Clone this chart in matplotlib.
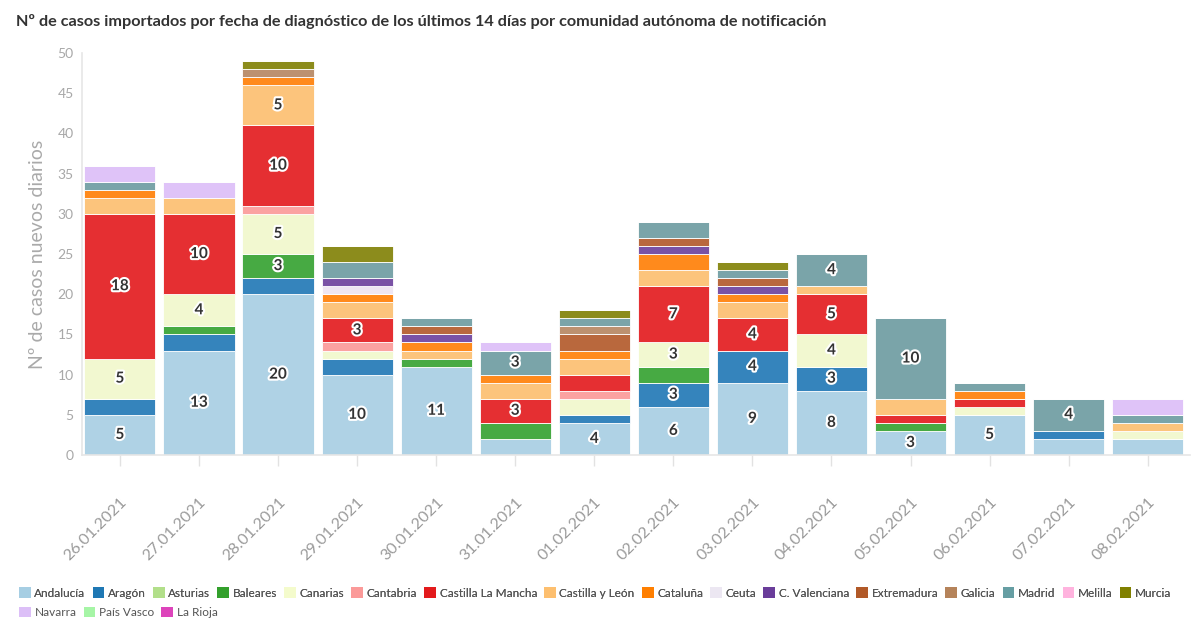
import numpy as np
import matplotlib
matplotlib.use('Agg')
import matplotlib.pyplot as plt
import matplotlib.patheffects as pe
from matplotlib.patches import Patch

plt.rcParams['font.family'] = ['Lato', 'DejaVu Sans']

# Data
fechas = ['26.01.2021', '27.01.2021', '28.01.2021', '29.01.2021', '30.01.2021',
          '31.01.2021', '01.02.2021', '02.02.2021', '03.02.2021', '04.02.2021',
          '05.02.2021', '06.02.2021', '07.02.2021', '08.02.2021']

comunidades = ['Andalucía', 'Aragón', 'Asturias', 'Baleares', 'Canarias', 'Cantabria',
               'Castilla La Mancha', 'Castilla y León', 'Cataluña', 'Ceuta',
               'C. Valenciana', 'Extremadura', 'Galicia', 'Madrid', 'Melilla',
               'Murcia', 'Navarra', 'País Vasco', 'La Rioja']

andalucia    = [5, 13, 20, 10, 11, 2, 4, 6, 9, 8, 3, 5, 2, 2]
aragon       = [2, 2, 2, 2, 0, 0, 1, 3, 4, 3, 0, 0, 1, 0]
asturias     = [0, 0, 0, 0, 0, 0, 0, 0, 0, 0, 0, 0, 0, 0]
baleares     = [0, 1, 3, 0, 1, 2, 0, 2, 0, 0, 1, 0, 0, 0]
canarias     = [5, 4, 5, 1, 0, 0, 2, 3, 0, 4, 0, 1, 0, 1]
cantabria    = [0, 0, 1, 1, 0, 0, 1, 0, 0, 0, 0, 0, 0, 0]
clm          = [18, 10, 10, 3, 0, 3, 2, 7, 4, 5, 1, 1, 0, 0]
cyl          = [2, 2, 5, 2, 1, 2, 2, 2, 2, 1, 2, 0, 0, 1]
cataluna     = [1, 0, 1, 1, 1, 1, 1, 2, 1, 0, 0, 1, 0, 0]
ceuta        = [0, 0, 0, 1, 0, 0, 0, 0, 0, 0, 0, 0, 0, 0]
valenciana   = [0, 0, 0, 1, 1, 0, 0, 1, 1, 0, 0, 0, 0, 0]
extremadura  = [0, 0, 0, 0, 1, 0, 2, 1, 1, 0, 0, 0, 0, 0]
galicia      = [0, 0, 1, 0, 0, 0, 1, 0, 0, 0, 0, 0, 0, 0]
madrid       = [1, 0, 0, 2, 1, 3, 1, 2, 1, 4, 10, 1, 4, 1]
melilla      = [0, 0, 0, 0, 0, 0, 0, 0, 0, 0, 0, 0, 0, 0]
murcia       = [0, 0, 1, 2, 0, 0, 1, 0, 1, 0, 0, 0, 0, 0]
navarra      = [2, 2, 0, 0, 0, 1, 0, 0, 0, 0, 0, 0, 0, 2]
pais_vasco   = [0, 0, 0, 0, 0, 0, 0, 0, 0, 0, 0, 0, 0, 0]
la_rioja     = [0, 0, 0, 0, 0, 0, 0, 0, 0, 0, 0, 0, 0, 0]

series = [andalucia, aragon, asturias, baleares, canarias, cantabria, clm, cyl,
          cataluna, ceuta, valenciana, extremadura, galicia, madrid, melilla,
          murcia, navarra, pais_vasco, la_rioja]

bar_colors = ['#afd2e5', '#3584bc', '#b9e296', '#47aa43', '#f2f8d0', '#fba2a1',
              '#e52f32', '#fcc47c', '#ff8a1c', '#efe6f2', '#7a52a5', '#b9683d',
              '#bc9170', '#7aa4a9', '#ffbbe3', '#8c8c1c', '#dfc3f8', '#adf5ad', '#df50c0']
legend_colors = ['#a6cee3', '#1f78b4', '#b2df8a', '#33a02c', '#f4fbcc', '#fb9a99',
                 '#e31a1c', '#fdbf6f', '#ff7f00', '#ece7f2', '#6a3d9a', '#b15928',
                 '#b5835a', '#669ea3', '#ffb3de', '#808000', '#dcbff7', '#a6f5a6', '#dd44bb']

fig = plt.figure(figsize=(11.98, 6.25), dpi=100)
ax = fig.add_axes([0.0684, 0.272, 0.9246, 0.643])

x = np.arange(len(fechas))
bottom = np.zeros(len(fechas))
for vals, col in zip(series, bar_colors):
    vals = np.array(vals)
    ax.bar(x, vals, 0.9, bottom=bottom, color=col, edgecolor='white', linewidth=0.6)
    for xi, v, b in zip(x, vals, bottom):
        if v >= 3:
            ax.text(xi, b + v / 2, str(v), ha='center', va='center', fontsize=11,
                    fontweight='bold', color='#333333',
                    path_effects=[pe.withStroke(linewidth=3, foreground='white')])
    bottom += vals

ax.set_xlim(-0.48, len(fechas) - 0.47)
ax.set_ylim(0, 50)
ax.set_yticks(range(0, 51, 5))
ax.set_xticks(x)
ax.set_xticklabels(fechas, rotation=45, ha='right', rotation_mode='anchor')
ax.tick_params(axis='x', colors='#e2e2e2', labelcolor='#9a9a9a', labelsize=11.5,
               length=8, width=1, pad=21)
ax.tick_params(axis='y', colors='#e2e2e2', labelcolor='#a8a8a8', labelsize=10,
               length=0, pad=6)
for s in ['top', 'right']:
    ax.spines[s].set_visible(False)
for s in ['left', 'bottom']:
    ax.spines[s].set_color('#e6e6e6')
    ax.spines[s].set_linewidth(1.2)
ax.set_ylabel('Nº de casos nuevos diarios', fontsize=14, color='#aaaaaa', labelpad=8)

fig.text(0.013, 0.965, 'Nº de casos importados por fecha de diagnóstico de los últimos 14 días '
         'por comunidad autónoma de notificación', fontsize=11.7, fontweight='bold',
         color='#333333', va='center', ha='left')

handles = [Patch(facecolor=c, edgecolor='none', label=n) for n, c in zip(comunidades, legend_colors)]
legend_kw = dict(loc='upper left', frameon=False, handlelength=1.0, handleheight=1.0,
                 handletextpad=0.3, columnspacing=0.6, labelcolor='#555555',
                 prop={'size': 8.5}, bbox_transform=fig.transFigure, borderaxespad=0)
leg1 = fig.legend(handles=handles[:16], ncol=16, bbox_to_anchor=(0.012, 0.068), **legend_kw)
fig.add_artist(leg1)
leg2 = fig.legend(handles=handles[16:], ncol=3, bbox_to_anchor=(0.012, 0.037), **legend_kw)

fig.savefig('out.png', dpi=100)
